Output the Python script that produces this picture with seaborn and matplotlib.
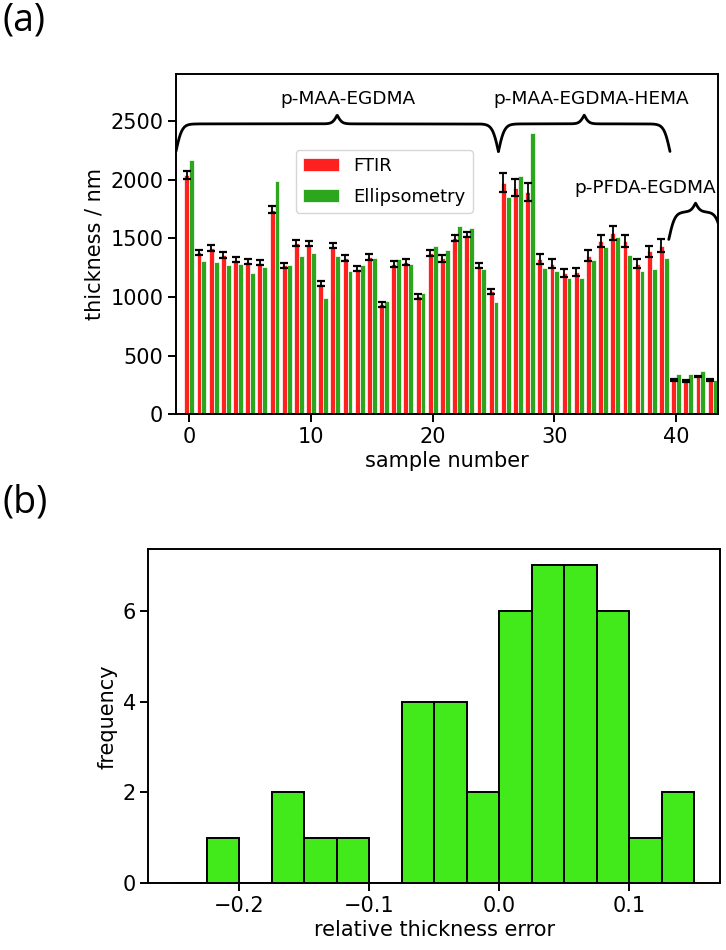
import numpy as np
import pandas as pd
import matplotlib
matplotlib.use("Agg")
import matplotlib.pyplot as plt
import seaborn as sns

# thickness per sample (nm)
samples = list(range(44))
ftir = [2040, 1381, 1418, 1356, 1319, 1299, 1291, 1745, 1271, 1461,
        1455, 1112, 1438, 1333, 1242, 1342, 936, 1282, 1296, 1007,
        1376, 1328, 1504, 1532, 1268, 1049, 1975, 1932, 1896, 1325,
        1285, 1206, 1211, 1353, 1475, 1546, 1475, 1285, 1390, 1438,
        292, 284, 321, 292]
ftir_err = [33, 21, 24, 23, 22, 22, 22, 28, 21, 25,
            24, 22, 24, 28, 21, 25, 20, 24, 24, 21,
            24, 27, 25, 25, 24, 21, 78, 71, 78, 40,
            40, 35, 35, 47, 50, 57, 52, 42, 47, 54,
            5, 5, 5, 5]
ellipsometry = [2170, 1305, 1296, 1274, 1285, 1203, 1257, 1986, 1274, 1353,
                1376, 990, 1347, 1217, 1271, 1333, 964, 1325, 1285, 1030,
                1438, 1396, 1603, 1589, 1234, 956, 1848, 2034, 2397, 1248,
                1220, 1163, 1163, 1313, 1427, 1512, 1356, 1220, 1240, 1333,
                346, 340, 369, 292]

# polymer groups marked with braces
group_names = ["p-MAA-EGDMA", "p-MAA-EGDMA-HEMA", "p-PFDA-EGDMA"]
group_start = [-1.1, 25.4, 39.4]
group_end = [25.4, 39.5, 43.8]
brace_base = [2240, 2240, 1490]
label_x = [13, 33, 37.5]
label_y = [2690, 2690, 1930]

# histogram of relative thickness error
err_bin_edges = [-0.25, -0.225, -0.2, -0.175, -0.15, -0.125, -0.1, -0.075, -0.05,
                 -0.025, 0.0, 0.025, 0.05, 0.075, 0.1, 0.125, 0.15]
err_counts = [0, 1, 0, 2, 1, 1, 0, 4, 4, 2, 6, 7, 7, 6, 1, 2]

sns.set_style("ticks")
plt.rcParams.update({
    "font.family": ["DejaVu Sans"],
    "font.size": 15,
    "axes.linewidth": 1.4,
    "axes.edgecolor": "black",
    "xtick.major.size": 5.5,
    "ytick.major.size": 5.5,
    "xtick.major.width": 1.4,
    "ytick.major.width": 1.4,
    "xtick.color": "black",
    "ytick.color": "black",
    "text.color": "black",
    "axes.labelcolor": "black",
})


def draw_brace(ax, x0, x1, y0, drop=235, tip=75, beta=4.0):
    xs = np.linspace(x0, x1, 800)
    xm = (x0 + x1) / 2
    d = np.minimum(xs - x0, x1 - xs)
    dm = np.abs(xs - xm)
    ys = y0 + drop * (2 / (1 + np.exp(-beta * d)) - 1) + tip * 2 / (1 + np.exp(beta * 1.3 * dm))
    ax.plot(xs, ys, color="black", lw=2.0, solid_capstyle="round")


fig = plt.figure(figsize=(7.26, 9.5), dpi=100)
ax1 = fig.add_axes([0.242, 0.5639, 0.7474, 0.3582])
ax2 = fig.add_axes([0.2045, 0.0702, 0.7872, 0.3516])

# (a) thickness by sample
df = pd.DataFrame({
    "sample": samples * 2,
    "thickness": ftir + ellipsometry,
    "method": ["FTIR"] * len(ftir) + ["Ellipsometry"] * len(ellipsometry),
})
sns.barplot(data=df, x="sample", y="thickness", hue="method", native_scale=True,
            palette=["#ff2020", "#2ca61c"], saturation=1, errorbar=None,
            width=0.8, edgecolor="white", linewidth=0.5, ax=ax1)
ax1.errorbar(np.array(samples) - 0.2, ftir, yerr=ftir_err, fmt="none",
             ecolor="black", elinewidth=1.3, capsize=3.2, capthick=1.6, zorder=5)

for name, x0, x1, yb, lx, ly in zip(group_names, group_start, group_end,
                                     brace_base, label_x, label_y):
    draw_brace(ax1, x0, x1, yb)
    ax1.text(lx, ly, name, ha="center", va="center", fontsize=13.3)

ax1.set_xlim(-1.12, 43.47)
ax1.set_ylim(0, 2900)
ax1.set_xticks([0, 10, 20, 30, 40])
ax1.set_yticks([0, 500, 1000, 1500, 2000, 2500])
ax1.set_xlabel("sample number", labelpad=3)
ax1.set_ylabel("thickness / nm")
sns.move_legend(ax1, "upper left", bbox_to_anchor=(0.221, 0.777), title=None,
                fontsize=13, frameon=True, borderaxespad=0, labelspacing=0.7)

# (b) histogram of relative error
bin_centers = (np.array(err_bin_edges[:-1]) + np.array(err_bin_edges[1:])) / 2
sns.histplot(x=bin_centers, weights=err_counts, bins=err_bin_edges,
             color="#42ea1c", edgecolor="black", linewidth=1.4, alpha=1, ax=ax2)
ax2.set_xlim(-0.27, 0.17)
ax2.set_ylim(0, 7.35)
ax2.set_xticks([-0.2, -0.1, 0.0, 0.1])
ax2.set_yticks([0, 2, 4, 6])
ax2.set_xlabel("relative thickness error", labelpad=3)
ax2.set_ylabel("frequency")

fig.text(0.003, 0.998, "(a)", fontsize=27, family=["Open Sans", "DejaVu Sans"],
         ha="left", va="top")
fig.text(0.003, 1 - 484 / 950, "(b)", fontsize=27, family=["Open Sans", "DejaVu Sans"],
         ha="left", va="top")

fig.savefig("out.png", dpi=100)
